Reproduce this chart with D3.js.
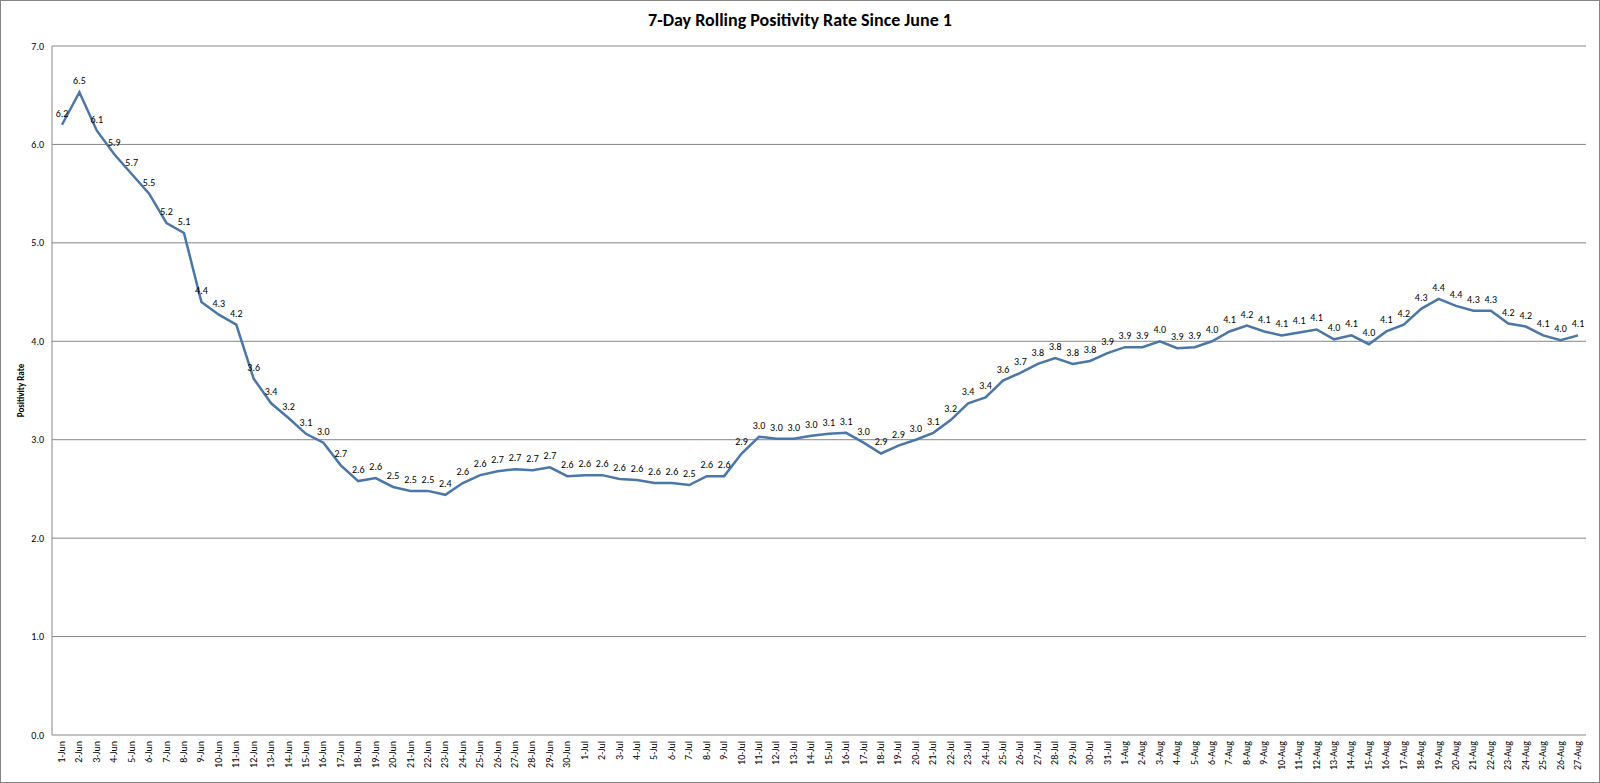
<!DOCTYPE html>
<html><head><meta charset="utf-8">
<script src="https://cdn.jsdelivr.net/npm/d3@7"></script>
<style>body{margin:0;background:#fff;font-family:Calibri,"Liberation Sans",Arial,sans-serif}</style>
</head><body><div id="chart"></div>
<script>
const width = 1600, height = 783;
const margin = { top: 46, right: 14, bottom: 48, left: 52 };

const months = [["Jun", 30], ["Jul", 31], ["Aug", 27]];
const dates = months.flatMap(([m, n]) => d3.range(1, n + 1).map(d => `${d}-${m}`));
const rates = [
  6.2, 6.53, 6.14, 5.9, 5.7, 5.5, 5.2, 5.1, 4.4, 4.27, 4.17, 3.62, 3.37, 3.22, 3.06, 2.97, 2.74, 2.58, 2.61, 2.52,
  2.48, 2.48, 2.44, 2.56, 2.64, 2.68, 2.70, 2.69, 2.72, 2.63,
  2.64, 2.64, 2.60, 2.59, 2.56, 2.56, 2.54, 2.63, 2.63, 2.86, 3.03, 3.01, 3.01, 3.04, 3.06, 3.07, 2.97, 2.86, 2.94, 3.0,
  3.07, 3.2, 3.37, 3.43, 3.6, 3.68, 3.77, 3.83, 3.77, 3.80, 3.88,
  3.94, 3.94, 4.0, 3.93, 3.94, 4.0, 4.1, 4.16, 4.1, 4.06, 4.09, 4.12, 4.02, 4.06, 3.97, 4.1, 4.17, 4.33, 4.43, 4.36,
  4.31, 4.31, 4.18, 4.15, 4.06, 4.01, 4.06
];
const yTicks = [0, 1, 2, 3, 4, 5, 6, 7];

const svg = d3.select("#chart").append("svg").attr("width", width).attr("height", height);
svg.append("rect").attr("x", 0.5).attr("y", 0.5).attr("width", width - 1).attr("height", height - 1)
  .attr("fill", "#fff").attr("stroke", "#868686");

const x = d3.scalePoint().domain(dates).range([margin.left + 10, width - margin.right - 8]);
const y = d3.scaleLinear().domain([0, 7]).range([height - margin.bottom, margin.top]);

// grid
svg.selectAll(".grid").data(yTicks.slice(1)).enter().append("line")
  .attr("x1", margin.left).attr("x2", width - margin.right)
  .attr("y1", d => y(d)).attr("y2", d => y(d))
  .attr("stroke", "#868686").attr("stroke-width", 1);

// axes
svg.append("line").attr("x1", margin.left).attr("x2", margin.left)
  .attr("y1", y(0)).attr("y2", y(7)).attr("stroke", "#868686");
svg.append("line").attr("x1", margin.left).attr("x2", width - margin.right)
  .attr("y1", y(0)).attr("y2", y(0)).attr("stroke", "#868686");

svg.selectAll(".ylab").data(yTicks).enter().append("text")
  .attr("x", margin.left - 8).attr("y", d => y(d)).attr("dy", "0.35em")
  .attr("text-anchor", "end").attr("font-size", "10px").text(d => d.toFixed(1));

svg.selectAll(".xlab").data(dates).enter().append("text")
  .attr("transform", d => `translate(${x(d) + 3},${y(0) + 6}) rotate(-90)`)
  .attr("text-anchor", "end").attr("font-size", "10px").text(d => d);

// title and axis label
svg.append("text").attr("x", width / 2).attr("y", 26).attr("text-anchor", "middle")
  .attr("font-size", "18px").attr("font-weight", "bold").text("7-Day Rolling Positivity Rate Since June 1");
svg.append("text").attr("transform", `translate(24,${y(3.5)}) rotate(-90)`)
  .attr("text-anchor", "middle").attr("font-size", "9px").attr("font-weight", "bold").text("Positivity Rate");

// line
const line = d3.line().x((d, i) => x(dates[i])).y(d => y(d));
svg.append("path").datum(rates).attr("d", line)
  .attr("fill", "none").attr("stroke", "#4a76a8").attr("stroke-width", 2.5);

// data labels
svg.selectAll(".dl").data(rates).enter().append("text")
  .attr("x", (d, i) => x(dates[i])).attr("y", d => y(d) - 8)
  .attr("text-anchor", "middle").attr("font-size", "10px").text(d => d.toFixed(1));
</script></body></html>
